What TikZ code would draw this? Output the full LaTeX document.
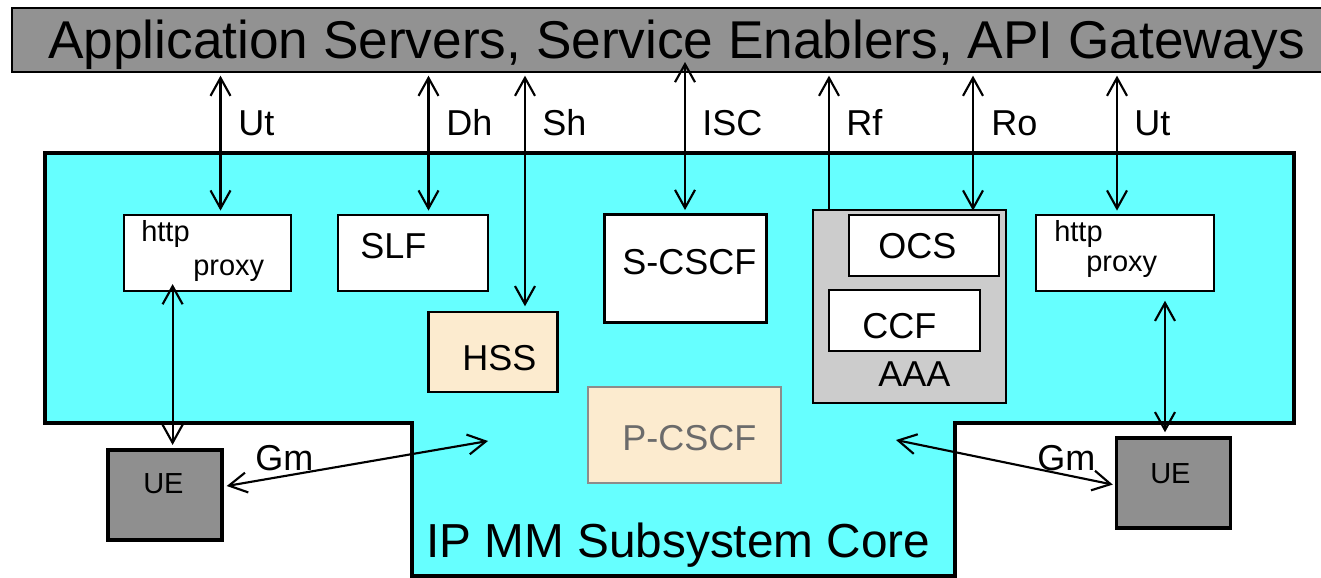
\documentclass[tikz,border=0pt]{standalone}
\usepackage{fontspec}
\setmainfont{Liberation Sans}
\usetikzlibrary{arrows.meta}
\definecolor{cyanfill}{HTML}{66FFFF}
\definecolor{bargray}{HTML}{929292}
\definecolor{uegray}{HTML}{8F8F8F}
\definecolor{aaagray}{HTML}{CCCCCC}
\definecolor{peach}{HTML}{FCEBCF}
\definecolor{pgray}{HTML}{6B6B6B}
\definecolor{pborder}{HTML}{8C8C8C}
\begin{document}
\begin{tikzpicture}[x=0.75pt,y=-0.75pt,
  box/.style 2 args={draw=black, line width=1.6pt, fill=white, inner sep=0pt,
    minimum width=#1*0.75pt, minimum height=#2*0.75pt},
  txt/.style={inner sep=0pt, anchor=base west},
  fbig/.style={font=\fontsize{39.9}{44}\selectfont},
  fmid/.style={font=\fontsize{27}{30}\selectfont},
  fcore/.style={font=\fontsize{35.8}{40}\selectfont},
  fsmall/.style={font=\fontsize{21.75}{24}\selectfont},
  conn/.style={line width=1.6pt, arrows={Straight Barb[length=13.5pt,width=15pt]-Straight Barb[length=13.5pt,width=15pt]}},
  conn1/.style={line width=1.6pt, arrows={-Straight Barb[length=13.5pt,width=15pt]}}
]
\useasboundingbox (0,0) rectangle (1321,578);
\fill[white] (0,0) rectangle (1321,578);

% top bar
\node[draw=black, line width=1.5pt, fill=bargray, inner sep=0pt,
  minimum width=1310*0.75pt, minimum height=64*0.75pt] (as) at (667,40) {};
\node[txt, fbig] (astext) at (48,58) {Application Servers, Service Enablers, API Gateways};

% IMS core region
\draw[line width=3.5pt, fill=cyanfill, line join=miter]
  (45,153) -- (1294,153) -- (1294,423) -- (955,423) -- (955,576)
  -- (412,576) -- (412,423) -- (45,423) -- cycle;

% boxes
\node[box={167}{76}] (proxyL) at (207.5,253) {};
\node[box={150}{76}] (slf) at (413,253) {};
\node[box={162}{108}] (scscf) at (685.5,268.5) {};
\node[box={193}{193}, fill=aaagray, line width=1.5pt] (aaa) at (909.5,306.5) {};
\node[box={150}{61}] (ocs) at (924,245.5) {};
\node[box={151}{61}] (ccf) at (904.5,320.5) {};
\node[box={178}{76}] (proxyR) at (1125,253) {};
\node[box={129}{80}, fill=peach] (hss) at (493,352) {};
\node[box={193}{96}, fill=peach, draw=pborder, line width=1.5pt] (pcscf) at (684.5,435) {};
\node[box={114}{90}, fill=uegray, line width=2.6pt] (uel) at (165,495) {};
\node[box={114}{90}, fill=uegray, line width=2.6pt] (uer) at (1173.5,483) {};

% texts in boxes
\node[txt, fsmall] (httpL) at (141,241) {http};
\node[txt, fsmall] (proxytL) at (193,275) {proxy};
\node[txt, fsmall] (httpR) at (1054,241) {http};
\node[txt, fsmall] (proxytR) at (1086,271) {proxy};
\node[txt, fmid] (slft) at (360,258) {SLF};
\node[txt, fmid] (scscft) at (622,274) {S-CSCF};
\node[txt, fmid] (ocst) at (878,258) {OCS};
\node[txt, fmid] (ccft) at (862,338) {CCF};
\node[txt, fmid] (aaat) at (878,386) {AAA};
\node[txt, fmid] (hsst) at (462,370) {HSS};
\node[txt, fmid, text=pgray] (pcscft) at (622,450) {P-CSCF};
\node[txt, fsmall] (uelt) at (143,493) {UE};
\node[txt, fsmall] (uert) at (1150,483) {UE};
\node[txt, fcore] (core) at (426,557) {IP MM Subsystem Core};

% interface labels
\node[txt, fmid] (lUtL) at (238,135) {Ut};
\node[txt, fmid] (lDh) at (446,135) {Dh};
\node[txt, fmid] (lSh) at (542,135) {Sh};
\node[txt, fmid] (lISC) at (702,135) {ISC};
\node[txt, fmid] (lRf) at (846,135) {Rf};
\node[txt, fmid] (lRo) at (991,135) {Ro};
\node[txt, fmid] (lUtR) at (1134,135) {Ut};
\node[txt, fmid] (lGmL) at (255,470) {Gm};
\node[txt, fmid] (lGmR) at (1037,470) {Gm};

% x positions of connectors
\coordinate (xUtL) at (220.5,0);
\coordinate (xDh) at (428.5,0);
\coordinate (xSh) at (525,0);
\coordinate (iscTop) at (685,62);
\coordinate (xRf) at (829,0);
\coordinate (xRo) at (973,0);
\coordinate (xUtR) at (1117,0);
\coordinate (xUeL) at (172.6,0);
\coordinate (xUeR) at (1165,0);
\coordinate (gmL2) at (488,441);
\coordinate (gmR2) at (896,440);

% connectors
\draw[conn, shorten <=2pt, shorten >=2.5pt] (as.south -| xUtL) -- (proxyL.north -| xUtL);
\draw[conn, shorten <=2pt, shorten >=2.5pt] (as.south -| xDh) -- (slf.north -| xDh);
\draw[conn, shorten <=2pt, shorten >=3.5pt] (as.south -| xSh) -- (hss.north -| xSh);
\draw[conn, shorten >=2.5pt] (iscTop) -- (scscf.north -| iscTop);
\draw[conn1, shorten >=2pt] (aaa.north -| xRf) -- (as.south -| xRf);
\draw[conn, shorten <=2pt, shorten >=2.5pt] (as.south -| xRo) -- (ocs.north -| xRo);
\draw[conn, shorten <=2pt, shorten >=2.5pt] (as.south -| xUtR) -- (proxyR.north -| xUtR);
\draw[conn, shorten <=-6pt, shorten >=2.5pt] (proxyL.south -| xUeL) -- (uel.north -| xUeL);
\draw[conn, shorten <=6.5pt, shorten >=3pt] (proxyR.south -| xUeR) -- (uer.north -| xUeR);
\draw[conn] ([xshift=2.25pt, yshift=6.75pt]uel.east) -- (gmL2);
\draw[conn] (gmR2) -- ([xshift=-1.5pt, yshift=-1.2pt]uer.west);
\end{tikzpicture}
\end{document}
